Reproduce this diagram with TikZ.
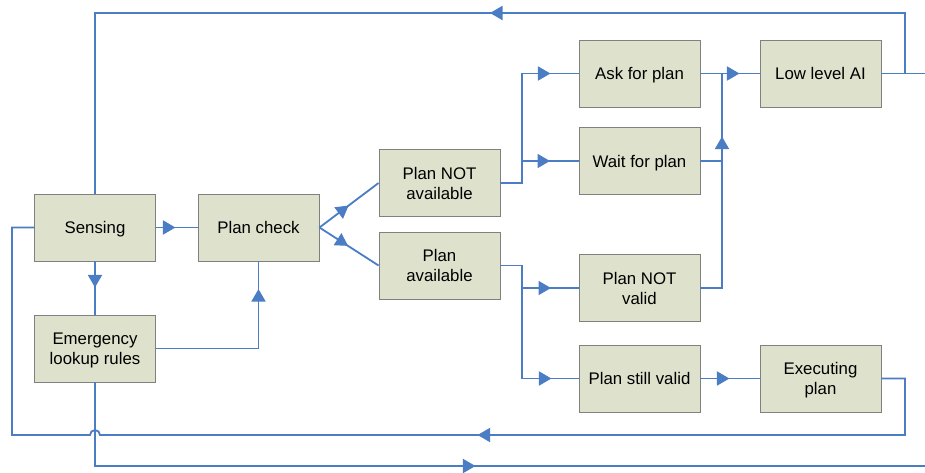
\documentclass[tikz,border=0pt]{standalone}
\usepackage{fontspec}
\setmainfont{Liberation Sans}
\usetikzlibrary{arrows.meta,decorations.markings}
\definecolor{flow}{HTML}{4A7DC4}
\definecolor{boxfill}{HTML}{DEE1CB}
\definecolor{boxline}{HTML}{808080}
\begin{document}
\begin{tikzpicture}[x=1pt,y=-1pt,
  stage/.style={draw=boxline, fill=boxfill, line width=0.9pt,
    minimum width=121pt, minimum height=67pt, inner sep=0pt,
    align=center, font=\fontsize{16.8}{20}\selectfont},
  flat/.style={text depth=0pt},
  link/.style={draw=flow, line width=1.8pt},
  arrowat/.style={postaction={decorate, decoration={markings,
    mark=at position #1 with {\arrow[flow]{Triangle[length=12.5pt,width=14pt]}}}}}]
\useasboundingbox (0,0) rectangle (925,472);

% stages
\node[stage,flat] (sense) at (95,227.5)  {Sensing};
\node[stage] (check)      at (258.5,227.5) {Plan check};
\node[stage,flat] (emerg) at (95,348.5)  {Emergency\\lookup rules};
\node[stage] (nav)        at (439.5,183) {Plan NOT\\available};
\node[stage] (av)         at (439.5,265.5) {Plan\\available};
\node[stage,flat] (ask)   at (639.5,73.5) {Ask for plan};
\node[stage,flat] (wait)  at (639.5,161) {Wait for plan};
\node[stage] (low)        at (820.5,73.5) {Low level AI};
\node[stage] (notvalid)   at (639.5,288) {Plan NOT\\valid};
\node[stage] (still)      at (639.5,378.5) {Plan still valid};
\node[stage,flat] (exec)  at (820.5,378.5) {Executing\\plan};

% junction points
\coordinate (navfork)  at (522,183);
\coordinate (waitfork) at (522,161);
\coordinate (askfork)  at (522,73.5);
\coordinate (avfork)   at (522,265.5);
\coordinate (nvfork)   at (522,288);
\coordinate (svfork)   at (522,378.5);
\coordinate (joinlow)  at (722,73.5);
\coordinate (joinwait) at (722,161);
\coordinate (joinnv)   at (722,288);
\coordinate (outlow)   at (925,73.5);
\coordinate (uplow)    at (905,73.5);
\coordinate (topright) at (905,13);
\coordinate (topleft)  at (95,13);
\coordinate (exright)  at (905,378.5);
\coordinate (exdown)   at (905,435);
\coordinate (hopR)     at (100,435);
\coordinate (retleft)  at (12,435);
\coordinate (retup)    at (12,227.5);
\coordinate (emdown)   at (95,466);
\coordinate (emout)    at (925,466);
\coordinate (emcorner) at (258.5,348.5);

% connectors
\draw[link,arrowat=19.5pt] (sense.east) -- (check.west);
\draw[link,arrowat=26pt] (sense.south) -- (emerg.north);
\draw[link,arrowat=162pt] (emerg.east) -- (emcorner) -- (check.south);
\draw[link,arrowat=36.5pt] (check.east) -- (nav.west);
\draw[link,arrowat=34pt] (check.east) -- (av.west);

\draw[link,arrowat=159.5pt] (nav.east) -- (navfork) -- (askfork) -- (ask.west);
\draw[link,arrowat=28pt] (waitfork) -- (wait.west);
\draw[link,arrowat=164pt] (av.east) -- (avfork) -- (svfork) -- (still.west);
\draw[link,arrowat=29pt] (nvfork) -- (notvalid.west);

\draw[link,arrowat=39pt] (ask.east) -- (low.west);
\draw[link,arrowat=173pt] (notvalid.east) -- (joinnv) -- (joinlow);
\draw[link] (wait.east) -- (joinwait);
\draw[link,arrowat=29pt] (still.east) -- (exec.west);

% feedback loops
\draw[link] (low.east) -- (outlow);
\draw[link,arrowat=475.5pt] (uplow) -- (topright) -- (topleft) -- (sense.north);
\draw[link,arrowat=507.5pt] (exec.east) -- (exright) -- (exdown) -- (hopR)
  arc (0:-180:5) -- (retleft) -- (retup) -- (sense.west);
\draw[link,arrowat=464pt] (emerg.south) -- (emdown) -- (emout);
\end{tikzpicture}
\end{document}
